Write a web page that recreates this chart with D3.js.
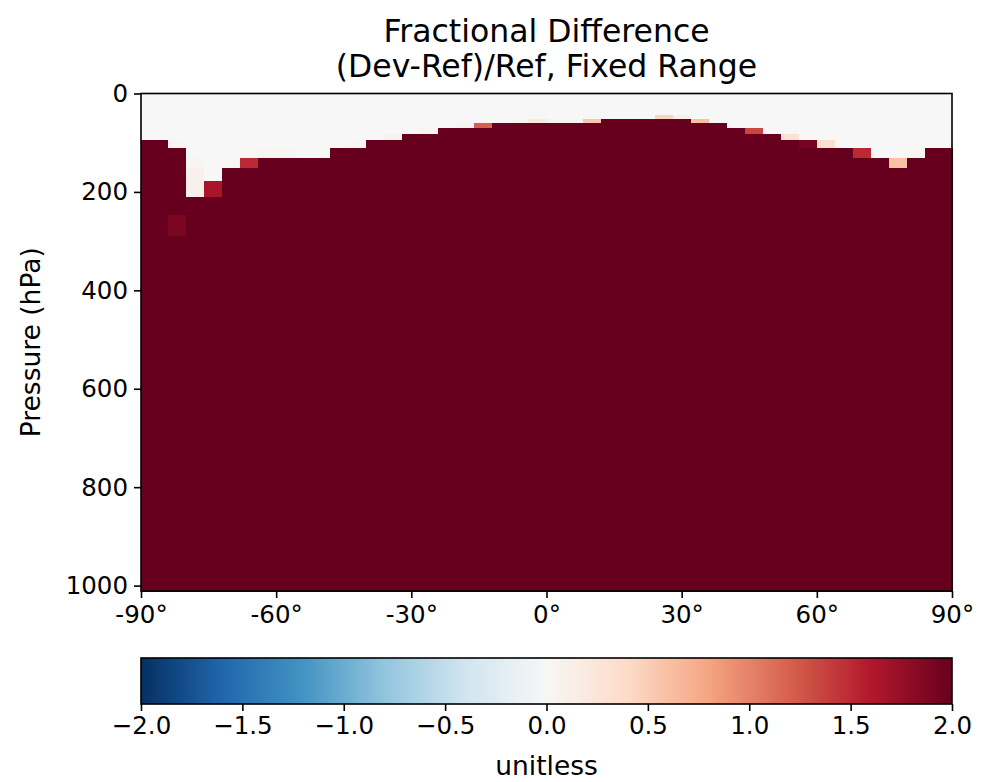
<!DOCTYPE html>
<html>
<head>
<meta charset="utf-8">
<script src="https://cdn.jsdelivr.net/npm/d3@7"></script>
<style>
  html, body { margin: 0; padding: 0; background: #ffffff; }
  svg { display: block; font-family: "DejaVu Sans", sans-serif; }
</style>
</head>
<body>
<svg id="chart" width="999" height="782"></svg>
<script>
// ---------------- DATA ----------------
// latitude cell edges (deg) and centres
const latEdges = [-90, -88, -84, -80, -76, -72, -68, -64, -60, -56, -52, -48, -44, -40, -36, -32, -28, -24, -20, -16, -12, -8, -4, 0,
                  4, 8, 12, 16, 20, 24, 28, 32, 36, 40, 44, 48, 52, 56, 60, 64, 68, 72, 76, 80, 84, 88, 90];
const latCenters = [-89, -86, -82, -78, -74, -70, -66, -62, -58, -54, -50, -46, -42, -38, -34, -30, -26, -22, -18, -14, -10, -6, -2,
                    2, 6, 10, 14, 18, 22, 26, 30, 34, 38, 42, 46, 50, 54, 58, 62, 66, 70, 74, 78, 82, 86, 89];
// vertical level edges (hPa), surface to top
const pressureEdges = [1011.0, 998.05, 982.76, 967.49, 952.19, 936.91, 921.62, 906.33, 891.04, 875.75, 860.46, 845.17, 829.89,
  809.50, 784.06, 758.62, 733.18, 707.73, 682.30, 644.11, 605.92, 567.73, 529.54, 491.36, 453.18, 415.00, 376.83, 338.66,
  288.92, 245.24, 208.50, 177.40, 151.20, 129.13, 110.35, 94.40, 80.70, 69.10, 59.17, 50.65, 43.32, 37.15, 31.80, 24.59,
  18.27, 13.44, 9.80, 7.10, 5.13, 3.70, 2.65, 1.90, 1.35, 0.96, 0.68, 0.48, 0.34, 0.24, 0.16, 0.11, 0.08, 0.05, 0.03, 0.02, 0.0];
// pressure (hPa) of the top of the saturated (>= 2) region in each latitude column
const saturatedTop = [94.40, 94.40, 110.35, 208.50, 208.50, 151.20, 151.20, 129.13, 129.13, 129.13, 129.13, 110.35, 110.35,
  94.40, 94.40, 80.70, 80.70, 69.10, 69.10, 69.10, 59.17, 59.17, 59.17, 59.17, 59.17, 59.17, 50.65, 50.65, 50.65, 50.65,
  50.65, 59.17, 59.17, 69.10, 80.70, 80.70, 94.40, 94.40, 110.35, 110.35, 129.13, 129.13, 151.20, 129.13, 110.35, 110.35];
// value inside the saturated region, and above it
const valueBelow = 2.5;
const valueAbove = 0.0;
// individual cells with other values: [latitude centre, lower edge hPa, upper edge hPa, value]
const specialCells = [
  [-82, 110.35, 94.40, 0.05],
  [-82, 288.92, 245.24, 1.90],
  [-78, 151.20, 129.13, 0.04],
  [-78, 177.40, 151.20, 0.10],
  [-78, 208.50, 177.40, 0.10],
  [-74, 208.50, 177.40, 1.65],
  [-70, 151.20, 129.13, 0.02],
  [-66, 151.20, 129.13, 1.50],
  [-62, 129.13, 110.35, 0.05],
  [-58, 129.13, 110.35, 0.03],
  [-42, 110.35, 94.40, 0.04],
  [-34, 94.40, 80.70, 0.07],
  [-26, 80.70, 69.10, 0.04],
  [-18, 69.10, 59.17, 0.04],
  [-14, 69.10, 59.17, 1.20],
  [-6, 59.17, 50.65, 0.04],
  [-2, 59.17, 50.65, 0.20],
  [2, 59.17, 50.65, 0.04],
  [6, 59.17, 50.65, 0.04],
  [10, 59.17, 50.65, 0.55],
  [26, 50.65, 43.32, 0.45],
  [30, 50.65, 43.32, 0.12],
  [34, 59.17, 50.65, 0.60],
  [46, 80.70, 69.10, 1.35],
  [54, 94.40, 80.70, 0.30],
  [58, 110.35, 94.40, 1.93],
  [62, 110.35, 94.40, 0.35],
  [70, 129.13, 110.35, 1.50],
  [78, 151.20, 129.13, 0.60],
  [82, 129.13, 110.35, 0.02]
];
const xTicks = [-90, -60, -30, 0, 30, 60, 90];
const yTicks = [0, 200, 400, 600, 800, 1000];
const cbarTicks = [-2.0, -1.5, -1.0, -0.5, 0.0, 0.5, 1.0, 1.5, 2.0];
const titleLines = ["Fractional Difference", "(Dev-Ref)/Ref, Fixed Range"];
const yLabel = "Pressure (hPa)";
const cbarLabel = "unitless";
// RdBu_r colour anchors
const rdbuR = ["#053061", "#2166ac", "#4393c3", "#92c5de", "#d1e5f0", "#f7f7f7", "#fddbc7", "#f4a582", "#d6604d", "#b2182b", "#67001f"];

// ---------------- LAYOUT ----------------
const plot = { left: 141, right: 952, top: 93.5, bottom: 591 };
const cbar = { left: 141, right: 952, top: 658, bottom: 704 };
const vmin = -2, vmax = 2;
const tickFont = 24.5, labelFont = 26.5, titleFont = 31.5;

const svg = d3.select("#chart");

const x = d3.scaleLinear().domain([-90, 90]).range([plot.left, plot.right]);
const y = d3.scaleLinear().domain([0, pressureEdges[0]]).range([plot.top, plot.bottom]);
const color = d3.scaleLinear()
  .domain(d3.range(rdbuR.length).map(i => vmin + i * (vmax - vmin) / (rdbuR.length - 1)))
  .range(rdbuR)
  .interpolate(d3.interpolateRgb)
  .clamp(true);

// build grid cells
const cells = [];
latCenters.forEach((lat, i) => {
  for (let k = 0; k < pressureEdges.length - 1; k++) {
    const pLo = pressureEdges[k], pHi = pressureEdges[k + 1];
    const pMid = (pLo + pHi) / 2;
    let v = pMid > saturatedTop[i] ? valueBelow : valueAbove;
    const sp = specialCells.find(c => c[0] === lat && Math.abs(c[1] - pLo) < 0.02 && Math.abs(c[2] - pHi) < 0.02);
    if (sp) v = sp[3];
    cells.push({ x0: latEdges[i], x1: latEdges[i + 1], p0: pLo, p1: pHi, v });
  }
});

svg.append("g")
  .attr("shape-rendering", "crispEdges")
  .selectAll("rect")
  .data(cells)
  .join("rect")
  .attr("x", d => x(d.x0))
  .attr("width", d => x(d.x1) - x(d.x0) + 0.5)
  .attr("y", d => y(d.p1))
  .attr("height", d => y(d.p0) - y(d.p1) + 0.5)
  .attr("fill", d => color(d.v));

// frame
svg.append("rect")
  .attr("x", plot.left).attr("y", plot.top)
  .attr("width", plot.right - plot.left).attr("height", plot.bottom - plot.top)
  .attr("fill", "none").attr("stroke", "#000").attr("stroke-width", 1.6);

// axes
const xAxis = d3.axisBottom(x).tickValues(xTicks).tickSize(7).tickPadding(8)
  .tickFormat(d => d + "\u00B0");
const gx = svg.append("g").attr("transform", `translate(0,${plot.bottom})`).call(xAxis);
const yAxis = d3.axisLeft(y).tickValues(yTicks).tickSize(7).tickPadding(6).tickFormat(d3.format("d"));
const gy = svg.append("g").attr("transform", `translate(${plot.left},0)`).call(yAxis);
[gx, gy].forEach(g => {
  g.select(".domain").remove();
  g.selectAll(".tick line").attr("stroke", "#000").attr("stroke-width", 1.6);
  g.selectAll(".tick text").attr("fill", "#000").style("font-size", tickFont + "px").style("font-family", "DejaVu Sans");
});

// y label
svg.append("text")
  .attr("transform", `translate(30,${(plot.top + plot.bottom) / 2}) rotate(-90)`)
  .attr("text-anchor", "middle")
  .attr("dominant-baseline", "central")
  .style("font-size", labelFont + "px")
  .text(yLabel);

// title
svg.append("g").selectAll("text")
  .data(titleLines)
  .join("text")
  .attr("x", (plot.left + plot.right) / 2)
  .attr("y", (d, i) => 42 + i * 35)
  .attr("text-anchor", "middle")
  .style("font-size", titleFont + "px")
  .text(d => d);

// colorbar
const defs = svg.append("defs");
const grad = defs.append("linearGradient").attr("id", "cbgrad").attr("x1", "0%").attr("x2", "100%");
d3.range(0, 1.0001, 0.01).forEach(t => {
  grad.append("stop").attr("offset", (t * 100) + "%").attr("stop-color", color(vmin + t * (vmax - vmin)));
});
const cx = d3.scaleLinear().domain([vmin, vmax]).range([cbar.left, cbar.right]);
svg.append("rect")
  .attr("x", cbar.left).attr("y", cbar.top)
  .attr("width", cbar.right - cbar.left).attr("height", cbar.bottom - cbar.top)
  .attr("fill", "url(#cbgrad)").attr("stroke", "#000").attr("stroke-width", 1.6);
const cAxis = d3.axisBottom(cx).tickValues(cbarTicks).tickSize(7).tickPadding(6)
  .tickFormat(d => d3.format(".1f")(d).replace("-", "\u2212"));
const gc = svg.append("g").attr("transform", `translate(0,${cbar.bottom})`).call(cAxis);
gc.select(".domain").remove();
gc.selectAll(".tick line").attr("stroke", "#000").attr("stroke-width", 1.6);
gc.selectAll(".tick text").attr("fill", "#000").style("font-size", tickFont + "px").style("font-family", "DejaVu Sans");

svg.append("text")
  .attr("x", (cbar.left + cbar.right) / 2)
  .attr("y", 775)
  .attr("text-anchor", "middle")
  .style("font-size", labelFont + "px")
  .text(cbarLabel);
</script>
</body>
</html>
